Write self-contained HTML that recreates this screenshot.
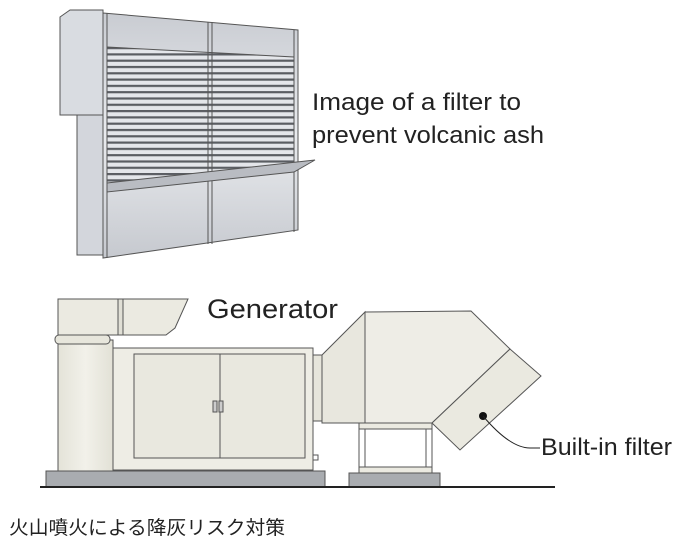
<!DOCTYPE html>
<html><head><meta charset="utf-8"><style>
html,body{margin:0;padding:0;background:#fff;}
svg{display:block;}
text{font-family:"Liberation Sans","Noto Sans CJK JP",sans-serif;fill:#222;}
</style></head><body>
<svg width="682" height="540" viewBox="0 0 682 540" xmlns="http://www.w3.org/2000/svg">
<defs>
<pattern id="lv" x="0" y="47" width="10" height="6.3" patternUnits="userSpaceOnUse">
<rect width="10" height="6.3" fill="#e4e6ea"/>
<rect y="0" width="10" height="2.2" fill="#5a5d62"/>
</pattern>
<linearGradient id="gp" x1="0" y1="0" x2="0" y2="1">
<stop offset="0" stop-color="#c9ccd2"/><stop offset="0.5" stop-color="#e9ebee"/><stop offset="1" stop-color="#c6c9cf"/>
</linearGradient>
<linearGradient id="gg" x1="0" y1="0" x2="1" y2="0">
<stop offset="0" stop-color="#e4e3d8"/><stop offset="0.5" stop-color="#f2f1ea"/><stop offset="1" stop-color="#e2e1d6"/>
</linearGradient>
</defs>
<g stroke="#555" stroke-width="1">
<polygon points="60,17 70,10 103,10 103,115 60,115" fill="#d9dce1"/>
<rect x="77" y="115" width="26" height="140" fill="#d3d6dc"/>
<polygon points="103,13 298,30 298,230 103,258" fill="url(#gp)"/>
<polygon points="107,47 294,57 294,168 107,185" fill="url(#lv)" stroke="#555"/>
<line x1="107" y1="13.5" x2="107" y2="258" />
<line x1="294" y1="30" x2="294" y2="232"/>
<line x1="208" y1="22" x2="208" y2="244"/>
<line x1="212" y1="22" x2="212" y2="244"/>
<polygon points="107,183 315,160 294,172 107,192" fill="#b9bcc2"/>
<rect x="46" y="471" width="279" height="16" fill="#a9acb0"/>
<rect x="58" y="340" width="55" height="131" fill="url(#gg)"/>
<polygon points="58,299 188,299 175,328 166,335 58,335" fill="#ebeae1"/>
<rect x="118" y="299" width="5" height="36" fill="#e0dfd5"/>
<rect x="55" y="335" width="55" height="9" rx="4" fill="#e7e6dc"/>
<rect x="113" y="348" width="200" height="122" fill="#eeede5"/>
<rect x="134" y="354" width="171" height="104" fill="#e9e8df"/>
<line x1="220" y1="354" x2="220" y2="458"/>
<rect x="213" y="401" width="4" height="11" fill="#ccc"/>
<rect x="219" y="401" width="4" height="11" fill="#ccc"/>
<rect x="313" y="455" width="5" height="5" fill="#fff"/>
<rect x="313" y="355" width="10" height="66" fill="#e6e5db"/>
<rect x="349" y="473" width="91" height="14" fill="#a9acb0"/>
<rect x="359" y="423" width="73" height="50" fill="#fff"/>
<rect x="365" y="429" width="61" height="38" fill="#fff"/>
<rect x="359" y="423" width="73" height="6" fill="#ebeae1"/>
<rect x="359" y="467" width="73" height="6" fill="#ebeae1"/>
<polygon points="322,355 365,312 365,423 322,423" fill="#e8e7de"/>
<polygon points="365,312 471,311 510,349 432,423 365,423" fill="#eeede6"/>
<polygon points="432,423 510,349 541,376 460,450" fill="#eae9e0"/>
</g>
<circle cx="483" cy="416" r="4" fill="#111"/>
<path d="M483,416 Q510,448 530,448 L540,448" fill="none" stroke="#222" stroke-width="1"/>
<line x1="40" y1="487" x2="555" y2="487" stroke="#222" stroke-width="2"/>
<text x="312" y="110" font-size="24" textLength="209" lengthAdjust="spacingAndGlyphs">Image of a filter to</text>
<text x="312" y="143" font-size="24" textLength="232" lengthAdjust="spacingAndGlyphs">prevent volcanic ash</text>
<text x="207" y="318" font-size="27" textLength="131" lengthAdjust="spacingAndGlyphs">Generator</text>
<text x="541" y="455" font-size="24" textLength="131" lengthAdjust="spacingAndGlyphs">Built-in filter</text>
<text x="9" y="534" font-size="19" textLength="276" lengthAdjust="spacingAndGlyphs">火山噴火による降灰リスク対策</text>
</svg>
</body></html>
